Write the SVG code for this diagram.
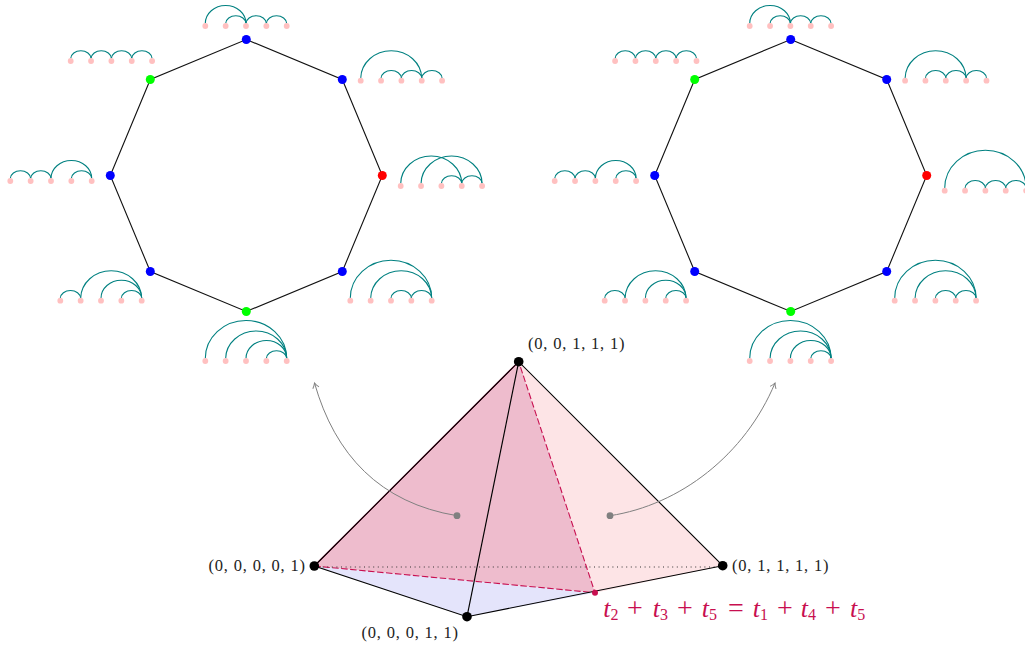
<svg xmlns="http://www.w3.org/2000/svg" width="1025" height="647" viewBox="0 0 1025 647">
<style>
.oct{fill:none;stroke:#111;stroke-width:1.1}
.arc{fill:none;stroke:#008080;stroke-width:1.1}
.pd{fill:#ffc0c0}
.b{fill:#0000ff}.g{fill:#00ff00}.r{fill:#ff0000}
.edge{fill:none;stroke:#000;stroke-width:1.15}
.crim{fill:none;stroke:#c80f50;stroke-width:1.1}
.dash{stroke-dasharray:6.5 2.5}
.arrow{fill:none;stroke:#808080;stroke-width:1}
.lab{font-family:"Liberation Serif",serif;font-size:16.5px;fill:#222}
.math{font-family:"Liberation Serif",serif;font-size:26px;fill:#c80f50}
.math .i{font-style:italic}
.math .s{font-size:16px}
.math .o{text-anchor:middle;font-size:28px}
</style>
<defs>
<g id="d"><circle class="pd" cx="0" cy="0" r="2.9"/><circle class="pd" cx="20.35" cy="0" r="2.9"/><circle class="pd" cx="40.7" cy="0" r="2.9"/><circle class="pd" cx="61.05" cy="0" r="2.9"/><circle class="pd" cx="81.4" cy="0" r="2.9"/></g>
<path id="s1" class="arc" d="M0 -2.5a10.18 8 0 0 1 20.35 0"/>
<path id="s2" class="arc" d="M0 -2.5a20.35 18 0 0 1 40.7 0"/>
<path id="s3" class="arc" d="M0 -2.5a30.53 28 0 0 1 61.05 0"/>
<path id="s4" class="arc" d="M0 -2.5a40.7 38 0 0 1 81.4 0"/>
<marker id="ah" markerWidth="10" markerHeight="10" refX="6.5" refY="4" orient="auto" markerUnits="userSpaceOnUse"><path d="M1.5 0.8Q4 3 6.5 4Q4 5 1.5 7.2" fill="none" stroke="#808080" stroke-width="1"/></marker>
</defs>
<g id="pyramid-faces">
<path fill="#e4e4fb" d="M314.3 566L467 616.7L595 592.7Z"/>
<path fill="#fde4e6" d="M518.7 361.7L595 592.7L722.7 565.7Z"/>
<path fill="#eebccd" d="M314.3 566L518.7 361.7L595 592.7Z"/>
</g>
<g id="connectors">
<polygon class="oct" points="246.3,39.5 342.3,79.5 382.3,175.5 342.3,271.5 246.3,311.5 150.3,271.5 110.3,175.5 150.3,79.5"/>
<polygon class="oct" points="790.7,39.5 886.7,79.5 926.7,175.5 886.7,271.5 790.7,311.5 694.7,271.5 654.7,175.5 694.7,79.5"/>
<path class="crim" d="M314.3 566L518.7 361.7"/>
<path class="crim dash" d="M314.3 566L595 592.7L518.7 361.7"/>
<path fill="none" stroke="#333" stroke-width="1.1" stroke-dasharray="1 3.6" d="M318 567H722.7"/>
<path class="edge" d="M314.3 566L518.7 361.7L722.7 565.7L467 616.7Z"/>
<path class="edge" d="M518.7 361.7L467 616.7"/>
<path class="arrow" marker-end="url(#ah)" d="M457 515.7C380 503 335 455 314.5 383"/>
<path class="arrow" marker-end="url(#ah)" d="M610 515.7C680 505 745 455 775 383"/>
</g>
<g id="octagon-left" transform="translate(.3 0)">
<circle id="l-top" class="b" cx="246" cy="39.5" r="4.5"/>
<circle id="l-ur" class="b" cx="342" cy="79.5" r="4.5"/>
<circle id="l-r" class="r" cx="382" cy="175.5" r="4.5"/>
<circle id="l-lr" class="b" cx="342" cy="271.5" r="4.5"/>
<circle id="l-bot" class="g" cx="246" cy="311.5" r="4.5"/>
<circle id="l-ll" class="b" cx="150" cy="271.5" r="4.5"/>
<circle id="l-l" class="b" cx="110" cy="175.5" r="4.5"/>
<circle id="l-ul" class="g" cx="150" cy="79.5" r="4.5"/>
</g>
<g id="octagon-right" transform="translate(.2 0)">
<circle id="r-top" class="b" cx="790.5" cy="39.5" r="4.5"/>
<circle id="r-ur" class="b" cx="886.5" cy="79.5" r="4.5"/>
<circle id="r-r" class="r" cx="926.5" cy="175.5" r="4.5"/>
<circle id="r-lr" class="b" cx="886.5" cy="271.5" r="4.5"/>
<circle id="r-bot" class="g" cx="790.5" cy="311.5" r="4.5"/>
<circle id="r-ll" class="b" cx="694.5" cy="271.5" r="4.5"/>
<circle id="r-l" class="b" cx="654.5" cy="175.5" r="4.5"/>
<circle id="r-ul" class="g" cx="694.5" cy="79.5" r="4.5"/>
</g>
<g id="arcs-l-top" transform="translate(205.3 26)"><use href="#s2"/><use href="#s1" x="20.35"/><use href="#s1" x="40.7"/><use href="#s1" x="61.05"/><use href="#d"/></g>
<g id="arcs-l-ul" transform="translate(70.7 61)"><use href="#s1"/><use href="#s1" x="20.35"/><use href="#s1" x="40.7"/><use href="#s1" x="61.05"/><use href="#d"/></g>
<g id="arcs-l-l" transform="translate(10.3 181)"><use href="#s1"/><use href="#s1" x="20.35"/><use href="#s2" x="40.7"/><use href="#s1" x="61.05"/><use href="#d"/></g>
<g id="arcs-l-ur" transform="translate(360.7 80.7)"><use href="#s3"/><use href="#s1" x="20.35"/><use href="#s1" x="40.7"/><use href="#s1" x="61.05"/><use href="#d"/></g>
<g id="arcs-l-r" transform="translate(400.7 186)"><use href="#s3"/><use href="#s3" x="20.35"/><use href="#s1" x="40.7"/><use href="#s1" x="61.05"/><use href="#d"/></g>
<g id="arcs-l-lr" transform="translate(350.3 300.7)"><use href="#s4"/><use href="#s3" x="20.35"/><use href="#s1" x="40.7"/><use href="#s1" x="61.05"/><use href="#d"/></g>
<g id="arcs-l-bot" transform="translate(205.3 361)"><use href="#s4"/><use href="#s3" x="20.35"/><use href="#s2" x="40.7"/><use href="#s1" x="61.05"/><use href="#d"/></g>
<g id="arcs-l-ll" transform="translate(60.3 300.7)"><use href="#s1"/><use href="#s3" x="20.35"/><use href="#s2" x="40.7"/><use href="#s1" x="61.05"/><use href="#d"/></g>
<g id="arcs-r-top" transform="translate(749.7 26)"><use href="#s2"/><use href="#s1" x="20.35"/><use href="#s1" x="40.7"/><use href="#s1" x="61.05"/><use href="#d"/></g>
<g id="arcs-r-ul" transform="translate(615.1 61)"><use href="#s1"/><use href="#s1" x="20.35"/><use href="#s1" x="40.7"/><use href="#s1" x="61.05"/><use href="#d"/></g>
<g id="arcs-r-l" transform="translate(554.7 181)"><use href="#s1"/><use href="#s1" x="20.35"/><use href="#s2" x="40.7"/><use href="#s1" x="61.05"/><use href="#d"/></g>
<g id="arcs-r-ur" transform="translate(905.1 80.7)"><use href="#s3"/><use href="#s1" x="20.35"/><use href="#s1" x="40.7"/><use href="#s1" x="61.05"/><use href="#d"/></g>
<g id="arcs-r-r" transform="translate(944.7 190.7)"><use href="#s4"/><use href="#s1" x="20.35"/><use href="#s1" x="40.7"/><use href="#s1" x="61.05"/><use href="#d"/></g>
<g id="arcs-r-lr" transform="translate(894.7 300.7)"><use href="#s4"/><use href="#s3" x="20.35"/><use href="#s1" x="40.7"/><use href="#s1" x="61.05"/><use href="#d"/></g>
<g id="arcs-r-bot" transform="translate(749.7 361)"><use href="#s4"/><use href="#s3" x="20.35"/><use href="#s2" x="40.7"/><use href="#s1" x="61.05"/><use href="#d"/></g>
<g id="arcs-r-ll" transform="translate(604.7 300.7)"><use href="#s1"/><use href="#s3" x="20.35"/><use href="#s2" x="40.7"/><use href="#s1" x="61.05"/><use href="#d"/></g>
<g id="v-apex"><circle cx="518.7" cy="361.7" r="4.8"/><text class="lab" x="528" y="349" textLength="96.5">(0, 0, 1, 1, 1)</text></g>
<g id="v-left"><circle cx="314.3" cy="566" r="4.8"/><text class="lab" x="208.5" y="571" textLength="96.5">(0, 0, 0, 0, 1)</text></g>
<g id="v-bottom"><circle cx="467" cy="616.7" r="4.8"/><text class="lab" x="361.5" y="638" textLength="96.5">(0, 0, 0, 1, 1)</text></g>
<g id="v-right"><circle cx="722.7" cy="565.7" r="4.8"/><text class="lab" x="732" y="571" textLength="96.5">(0, 1, 1, 1, 1)</text></g>
<g id="v-mid"><circle cx="595" cy="592.7" r="3" fill="#c80f50"/><text class="math" y="617"><tspan class="i" x="603.3">t</tspan><tspan class="s" x="610.5" dy="3">2</tspan><tspan class="o" x="635" dy="-3">+</tspan><tspan class="i" x="652.7">t</tspan><tspan class="s" x="659.9" dy="3">3</tspan><tspan class="o" x="685" dy="-3">+</tspan><tspan class="i" x="701.7">t</tspan><tspan class="s" x="708.9" dy="3">5</tspan><tspan class="o" x="736" dy="-3">=</tspan><tspan class="i" x="752.7">t</tspan><tspan class="s" x="759.9" dy="3">1</tspan><tspan class="o" x="785" dy="-3">+</tspan><tspan class="i" x="800.7">t</tspan><tspan class="s" x="807.9" dy="3">4</tspan><tspan class="o" x="833" dy="-3">+</tspan><tspan class="i" x="850">t</tspan><tspan class="s" x="857.2" dy="3">5</tspan></text></g>
<g id="arrow-starts"><circle cx="457" cy="515.7" r="3.4" fill="#808080"/><circle cx="610" cy="515.7" r="3.4" fill="#808080"/></g>
</svg>
